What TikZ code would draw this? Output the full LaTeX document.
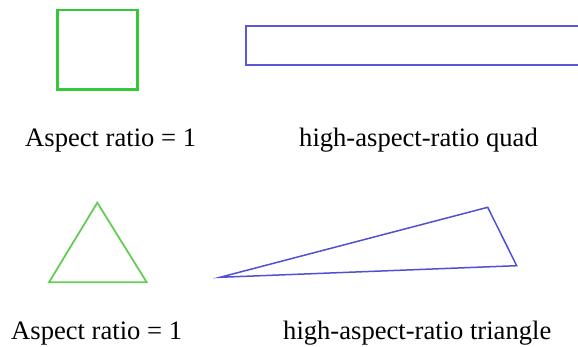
\documentclass[tikz,border=0pt]{standalone}
\usepackage{fontspec}
\setmainfont{Liberation Serif}
\definecolor{sqgreen}{RGB}{55,200,55}
\definecolor{trigreen}{RGB}{100,205,85}
\definecolor{quadblue}{RGB}{90,90,215}
\definecolor{triblue}{RGB}{80,80,210}
\begin{document}
\begin{tikzpicture}[x=1pt,y=-1pt,
  lbl/.style={anchor=base west,inner sep=0pt,font=\fontsize{26.6}{30}\selectfont},
  shapeline/.style={line join=miter}]
\useasboundingbox (0,0) rectangle (578,347);
\clip (0,0) rectangle (578,347);
% top row
\draw[sqgreen,line width=2.5pt,shapeline] (57.5,10) rectangle (137.7,89.3);
\draw[quadblue,line width=2pt,shapeline] (245.7,25.7) rectangle (600,65);
\node[lbl] (l1) at (25,147) {Aspect ratio = 1};
\node[lbl] (l2) at (299,147) {high-aspect-ratio quad};
% bottom row
\draw[trigreen,line width=1.8pt,shapeline] (97.3,202.7) -- (146.7,282.3) -- (49,282.3) -- cycle;
\draw[triblue,line width=1.5pt,shapeline] (220,277.3) -- (487.7,207.3) -- (516.7,265.7) -- cycle;
\node[lbl] (l3) at (11,339) {Aspect ratio = 1};
\node[lbl] (l4) at (283,339) {high-aspect-ratio triangle};
\end{tikzpicture}
\end{document}
